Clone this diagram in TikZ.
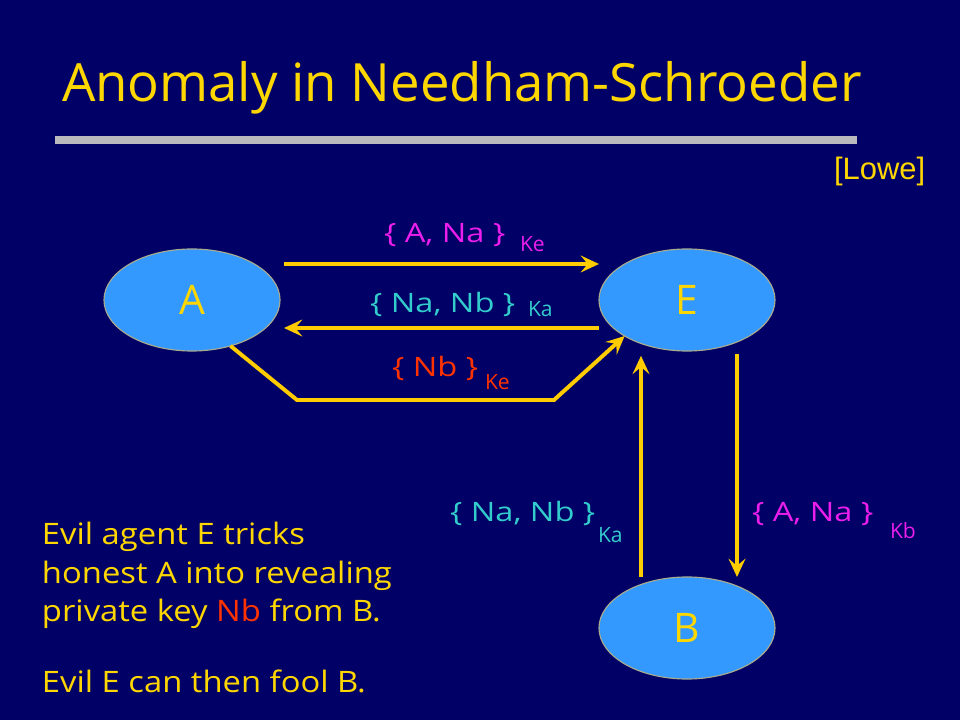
\documentclass[tikz,border=0pt]{standalone}
\usepackage{fontspec}
\setmainfont{Open Sans}
\newfontfamily\widefont{Open Sans}[FakeStretch=1.22]
\newfontfamily\notefont{Open Sans}[FakeStretch=1.11]
\newfontfamily\arialfont{Liberation Sans}
\usetikzlibrary{arrows.meta,shapes.geometric}

\definecolor{bgnavy}{RGB}{0,0,102}
\definecolor{flowyellow}{RGB}{255,204,0}
\definecolor{txtyellow}{RGB}{255,215,0}
\definecolor{partyblue}{RGB}{51,153,255}
\definecolor{partyedge}{RGB}{170,170,140}
\definecolor{bargray}{RGB}{185,185,190}
\definecolor{msgmagenta}{RGB}{235,30,235}
\definecolor{msgcyan}{RGB}{51,204,204}
\definecolor{msgred}{RGB}{255,51,0}

\begin{document}
\begin{tikzpicture}[
        x=0.025cm, y=-0.025cm,
        every node/.style={inner sep=0pt, outer sep=0pt},
        party/.style={ellipse, draw=partyedge, line width=0.8pt, fill=partyblue,
                minimum width=4.4cm, minimum height=2.55cm,
                text=txtyellow, font=\fontsize{29}{34}\selectfont},
        msg/.style={anchor=base west, font=\widefont\fontsize{19}{23}\selectfont},
        key/.style={anchor=base west, font=\fontsize{15}{18}\selectfont},
        note/.style={anchor=base west, text=txtyellow, font=\notefont\fontsize{21}{25}\selectfont},
        flow/.style={draw=flowyellow, line width=2.8pt,
                -{Stealth[length=13pt, width=12pt, inset=5pt]}}
    ]
    \fill[bgnavy] (0,0) rectangle (960,720);
    \useasboundingbox (0,0) rectangle (960,720);

    % heading
    \node[anchor=base west, text=txtyellow, font=\fontsize{37.5}{44}\selectfont] (title) at (62,102) {Anomaly in Needham-Schroeder};
    \fill[bargray] (55,136) rectangle (857,144);
    \node[anchor=base west, text=txtyellow, font=\arialfont\fontsize{22}{26}\selectfont] (cite) at (834,180) {[Lowe]};

    % parties
    \node[party] (A) at (192,300) {A};
    \node[party] (E) at (687,300) {E};
    \node[party] (B) at (687,628) {B};
    \coordinate (bendL) at (297,400);
    \coordinate (bendR) at (554,400);

    % messages
    \draw[flow] ([xshift=0.1cm, yshift=0.9cm]A.east) -- ([yshift=0.9cm]E.west);
    \draw[flow] ([yshift=-0.7cm]E.west) -- ([xshift=0.1cm, yshift=-0.7cm]A.east);
    \draw[flow] (A.-50) -- (bendL) -- (bendR) -- (E.210);
    \draw[flow] ([xshift=-1.15cm]B.north) -- ([xshift=-1.15cm, yshift=-0.12cm]E.south);
    \draw[flow] ([xshift=1.25cm, yshift=-0.08cm]E.south) -- ([xshift=1.25cm]B.north);

    \node[msg, text=msgmagenta] (msgAE) at (384,243) {\{ A, Na \}};
    \node[key, text=msgmagenta] (keyAE) at (520,252) {Ke};
    \node[msg, text=msgcyan] (msgEA) at (370,313) {\{ Na, Nb \}};
    \node[key, text=msgcyan] (keyEA) at (528,317) {Ka};
    \node[msg, text=msgred] (msgNb) at (392,377) {\{ Nb \}};
    \node[key, text=msgred] (keyNb) at (485,390) {Ke};
    \node[msg, text=msgcyan] (msgBE) at (450,522) {\{ Na, Nb \}};
    \node[key, text=msgcyan] (keyBE) at (598,543) {Ka};
    \node[msg, text=msgmagenta] (msgEB) at (752,522) {\{ A, Na \}};
    \node[key, text=msgmagenta] (keyEB) at (890,538) {Kb};

    % explanation
    \node[note] (noteA) at (42,545) {Evil agent E tricks};
    \node[note] (noteB) at (42,583) {honest A into revealing};
    \node[note] (noteC) at (42,621) {private key \textcolor{msgred}{Nb} from B.};
    \node[note] (noteD) at (42,692) {Evil E can then fool B.};
\end{tikzpicture}
\end{document}
